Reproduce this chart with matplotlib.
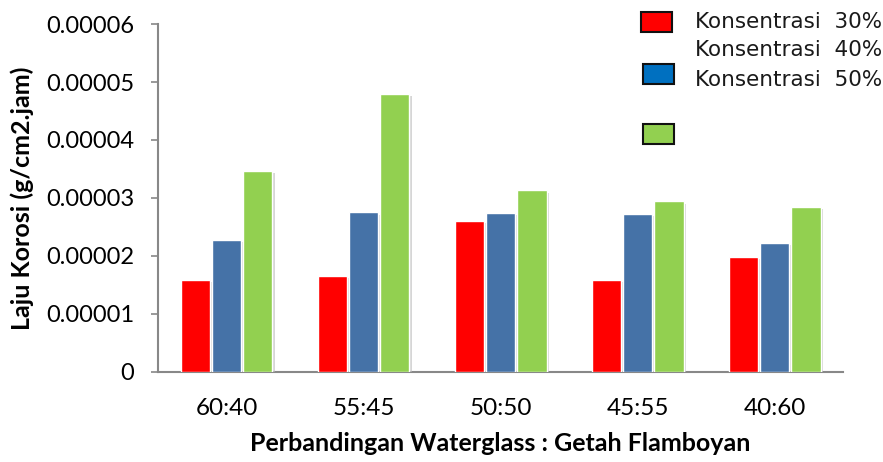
import matplotlib.pyplot as plt
import matplotlib.patheffects as pe
from matplotlib.patches import Rectangle
import numpy as np

# data: corrosion rate per waterglass : flamboyant sap ratio
categories = ["60:40", "55:45", "50:50", "45:55", "40:60"]
konsentrasi_30 = [1.59e-5, 1.65e-5, 2.60e-5, 1.59e-5, 1.98e-5]
konsentrasi_40 = [2.27e-5, 2.75e-5, 2.74e-5, 2.73e-5, 2.22e-5]
konsentrasi_50 = [3.47e-5, 4.80e-5, 3.13e-5, 2.94e-5, 2.85e-5]
legend_labels = ["Konsentrasi  30%", "Konsentrasi  40%", "Konsentrasi  50%"]
yticks = [0, 0.00001, 0.00002, 0.00003, 0.00004, 0.00005, 0.00006]
ytick_labels = ["0", "0.00001", "0.00002", "0.00003", "0.00004", "0.00005", "0.00006"]

bar_colors = ["#FF0000", "#4572A7", "#92D050"]
legend_colors = ["#FF0000", "#0070C0", "#92D050"]
grey = "#888888"
tick_font = "Lato"

fig = plt.figure(figsize=(8.83, 4.62), dpi=100)
ax = fig.add_axes([0.179, 0.195, 0.776, 0.753])

x = np.arange(len(categories))
w = 0.215
shadow = [pe.SimplePatchShadow(offset=(1.5, -1.5), shadow_rgbFace="#bbbbbb", alpha=0.6), pe.Normal()]
for i, vals in enumerate([konsentrasi_30, konsentrasi_40, konsentrasi_50]):
    bars = ax.bar(x + (i - 1) * (w + 0.012), vals, width=w, color=bar_colors[i],
                  edgecolor="white", linewidth=1.0, zorder=3)
    for b in bars:
        b.set_path_effects(shadow)

ax.set_xlim(-0.5, len(categories) - 0.5)
ax.set_ylim(0, 0.00006)
ax.set_yticks(yticks)
ax.set_yticklabels(ytick_labels, fontsize=17, family=tick_font)
ax.set_xticks(x)
ax.set_xticklabels(categories, fontsize=17.5, family=tick_font)

for s in ["top", "right"]:
    ax.spines[s].set_visible(False)
for s in ["left", "bottom"]:
    ax.spines[s].set_color(grey)
    ax.spines[s].set_linewidth(1.5)
ax.tick_params(axis="y", direction="out", length=5, width=1.2, color=grey, pad=12, labelcolor="#000000")
ax.tick_params(axis="x", length=0, pad=19, labelcolor="#000000")

ax.set_ylabel("Laju Korosi (g/cm2.jam)", fontsize=18, fontweight="bold", family=tick_font, labelpad=9)
ax.set_xlabel("Perbandingan Waterglass : Getah Flamboyan", fontsize=18, fontweight="bold",
              family=tick_font, labelpad=9)

# legend drawn by hand: boxes and labels sit on separate rows
box_pos = [(641, 12), (643, 64), (643, 124)]
text_y = [22, 50, 80]
W, H = 883.0, 462.0
for (bx, by), c in zip(box_pos, legend_colors):
    fig.patches.append(Rectangle((bx / W, 1 - (by + 20) / H), 31 / W, 20 / H,
                                 transform=fig.transFigure, facecolor=c,
                                 edgecolor="#111111", linewidth=1.5))
for ty, lab in zip(text_y, legend_labels):
    fig.text(695 / W, 1 - ty / H, lab, fontsize=15.5, family="DejaVu Sans",
             color="#1a1a1a", va="center", ha="left")

fig.savefig("out.png", dpi=100)
